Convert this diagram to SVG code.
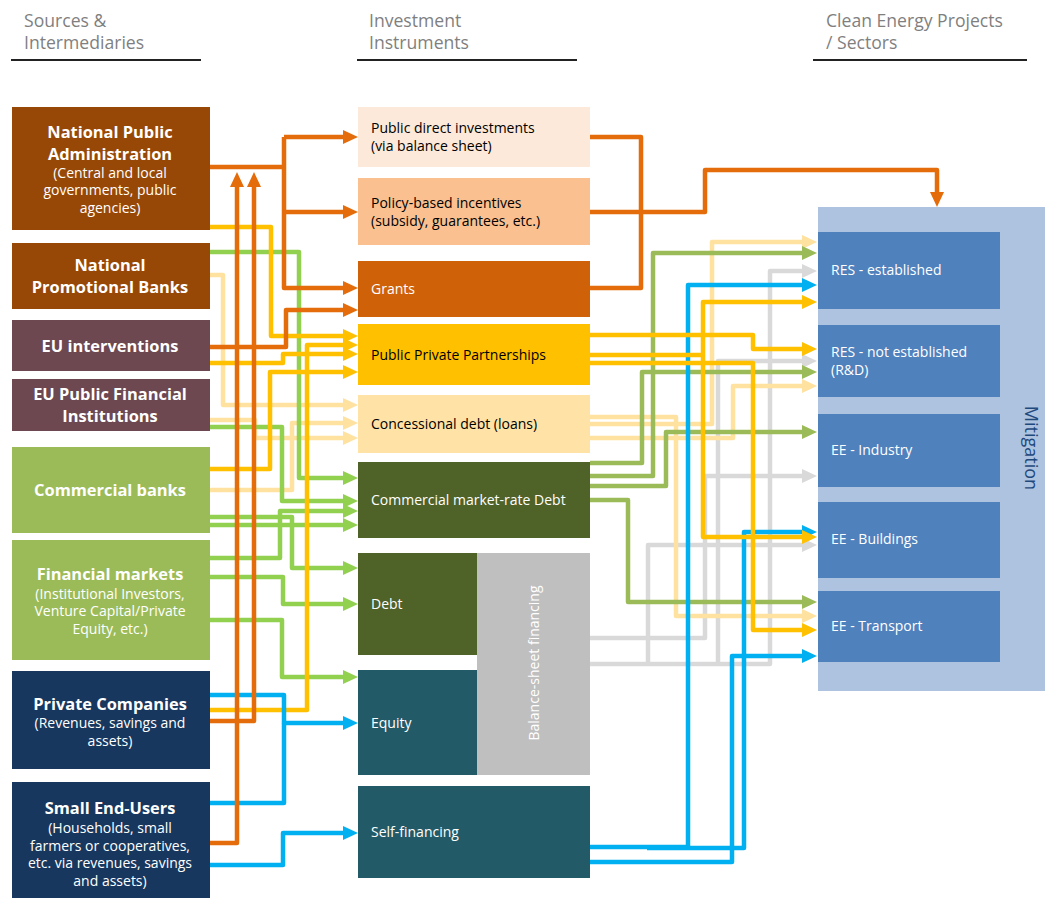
<svg xmlns="http://www.w3.org/2000/svg" width="1045" height="899" viewBox="0 0 1045 899">
<defs>
<style>
.hdr{font-family:"Open Sans","Liberation Sans",sans-serif;font-size:17.6px;fill:#7F7F7F}
.t{font-family:"Open Sans","Liberation Sans",sans-serif;fill:#fff;text-anchor:middle}
.tb{font-size:16.4px;font-weight:bold}
.ts{font-size:14px}
.m{font-family:"Open Sans","Liberation Sans",sans-serif;font-size:14px;fill:#000}
.w{fill:#fff}
.c{fill:none;stroke-width:4.5;stroke-linejoin:round}
.or{stroke:#E46C0A}
.ye{stroke:#FFC000}
.ly{stroke:#FFE1A0}
.gr{stroke:#92D050}
.og{stroke:#9BBB59}
.bl{stroke:#00B0F0}
.gy{stroke:#D9D9D9}
.uline{stroke:#222;stroke-width:2}
</style>
<marker id="aO" markerUnits="userSpaceOnUse" markerWidth="16" markerHeight="14" refX="6" refY="7" orient="auto"><path d="M0,0 L15,7 L0,14 z" fill="#E46C0A"/></marker>
<marker id="aY" markerUnits="userSpaceOnUse" markerWidth="16" markerHeight="14" refX="6" refY="7" orient="auto"><path d="M0,0 L15,7 L0,14 z" fill="#FFC000"/></marker>
<marker id="aL" markerUnits="userSpaceOnUse" markerWidth="16" markerHeight="14" refX="6" refY="7" orient="auto"><path d="M0,0 L15,7 L0,14 z" fill="#FFE1A0"/></marker>
<marker id="aG" markerUnits="userSpaceOnUse" markerWidth="16" markerHeight="14" refX="6" refY="7" orient="auto"><path d="M0,0 L15,7 L0,14 z" fill="#92D050"/></marker>
<marker id="aV" markerUnits="userSpaceOnUse" markerWidth="16" markerHeight="14" refX="6" refY="7" orient="auto"><path d="M0,0 L15,7 L0,14 z" fill="#9BBB59"/></marker>
<marker id="aB" markerUnits="userSpaceOnUse" markerWidth="16" markerHeight="14" refX="6" refY="7" orient="auto"><path d="M0,0 L15,7 L0,14 z" fill="#00B0F0"/></marker>
<marker id="aS" markerUnits="userSpaceOnUse" markerWidth="16" markerHeight="14" refX="6" refY="7" orient="auto"><path d="M0,0 L15,7 L0,14 z" fill="#D9D9D9"/></marker>
</defs>
<rect width="1045" height="899" fill="#fff"/>

<g id="headers">
<text class="hdr" x="24" y="27">Sources &amp;</text>
<text class="hdr" x="24" y="49">Intermediaries</text>
<line class="uline" x1="11" y1="60" x2="201" y2="60"/>
<text class="hdr" x="369" y="27">Investment</text>
<text class="hdr" x="369" y="49">Instruments</text>
<line class="uline" x1="357" y1="60" x2="577" y2="60"/>
<text class="hdr" x="826" y="27">Clean Energy Projects</text>
<text class="hdr" x="826" y="49">/ Sectors</text>
<line class="uline" x1="813" y1="60" x2="1027" y2="60"/>
</g>

<g id="mitigation">
<rect x="818" y="207" width="227" height="484" fill="#ADC3DF"/>
<text x="1025" y="448" transform="rotate(90 1025 448)" text-anchor="middle" font-family="'Open Sans','Liberation Sans',sans-serif" font-size="18" fill="#1F497D">Mitigation</text>
</g>

<g id="connectors">
<!-- left side: light yellow -->
<path class="c ly" d="M210,275 H223 V405 H349" marker-end="url(#aL)"/>
<path class="c ly" d="M210,420 H255 V438 H349" marker-end="url(#aL)"/>
<path class="c ly" d="M210,490 H292 V423 H349" marker-end="url(#aL)"/>
<!-- left side: green -->
<path class="c gr" d="M210,252 H299 V478 H349" marker-end="url(#aG)"/>
<path class="c gr" d="M210,427 H282 V501 H349" marker-end="url(#aG)"/>
<path class="c gr" d="M210,517 H292 V568 H349" marker-end="url(#aG)"/>
<path class="c gr" d="M210,525 H349" marker-end="url(#aG)"/>
<path class="c gr" d="M210,558 H280 V511 H349" marker-end="url(#aG)"/>
<path class="c gr" d="M210,577 H283 V604 H349" marker-end="url(#aG)"/>
<path class="c gr" d="M210,620 H282 V677 H349" marker-end="url(#aG)"/>
<!-- left side: yellow -->
<path class="c ye" d="M210,227 H271 V336 H349" marker-end="url(#aY)"/>
<path class="c ye" d="M210,363 H283 V354 H349" marker-end="url(#aY)"/>
<path class="c ye" d="M210,710 H307 V345 H349" marker-end="url(#aY)"/>
<path class="c ye" d="M210,469 H270 V372 H349" marker-end="url(#aY)"/>
<!-- left side: blue -->
<path class="c bl" d="M210,695 H284 V723 H349" marker-end="url(#aB)"/>
<path class="c bl" d="M210,803 H284 V723"/>
<path class="c bl" d="M210,865 H283 V833 H349" marker-end="url(#aB)"/>
<!-- left side: orange -->
<path class="c or" d="M210,167 H284"/>
<path class="c or" d="M284,137 V288 H349" marker-end="url(#aO)"/>
<path class="c or" d="M284,137 H349" marker-end="url(#aO)"/>
<path class="c or" d="M284,212 H349" marker-end="url(#aO)"/>
<path class="c or" d="M210,347 H286 V310 H349" marker-end="url(#aO)"/>
<path class="c or" d="M210,721 H254 V181" marker-end="url(#aO)"/>
<path class="c or" d="M210,843 H237 V181" marker-end="url(#aO)"/>

<!-- right side: orange -->
<path class="c or" d="M590,137 H641 V288 H590"/>
<path class="c or" d="M590,212 H705 V170 H937 V198" marker-end="url(#aO)"/>
<!-- right side: gray -->
<path class="c gy" d="M590,638 H705 V476 H808" marker-end="url(#aS)"/>
<path class="c gy" d="M590,664 H770 V271 H808" marker-end="url(#aS)"/>
<path class="c gy" d="M648,664 V545 H808" marker-end="url(#aS)"/>
<path class="c gy" d="M718,664 V361 H808" marker-end="url(#aS)"/>
<!-- right side: light yellow -->
<path class="c ly" d="M590,417 H676 V616 H808" marker-end="url(#aL)"/>
<path class="c ly" d="M590,424 H712 V242 H808" marker-end="url(#aL)"/>
<path class="c ly" d="M590,438 H733 V386 H808" marker-end="url(#aL)"/>
<!-- right side: olive green -->
<path class="c og" d="M590,463 H642 V372 H808" marker-end="url(#aV)"/>
<path class="c og" d="M590,476 H653 V253 H808" marker-end="url(#aV)"/>
<path class="c og" d="M590,486 H666 V432 H808" marker-end="url(#aV)"/>
<path class="c og" d="M590,500 H628 V602 H808" marker-end="url(#aV)"/>
<!-- right side: blue -->
<path class="c bl" d="M590,847 H688 V285 H808" marker-end="url(#aB)"/>
<path class="c bl" d="M647,848 H744 V532 H808" marker-end="url(#aB)"/>
<path class="c bl" d="M590,862 H732 V656 H808" marker-end="url(#aB)"/>
<!-- right side: yellow -->
<path class="c ye" d="M590,335 H753 V349 H808" marker-end="url(#aY)"/>
<path class="c ye" d="M590,363 H753 V630 H808" marker-end="url(#aY)"/>
<path class="c ye" d="M590,355 H703 V302 H808" marker-end="url(#aY)"/>
<path class="c ye" d="M703,355 V537 H808" marker-end="url(#aY)"/>
</g>

<g id="src-npa">
<rect x="12" y="107" width="198" height="123" fill="#974806"/>
<text class="t tb" x="110" y="138">National Public</text>
<text class="t tb" x="110" y="160">Administration</text>
<text class="t ts" x="110" y="178">(Central and local</text>
<text class="t ts" x="110" y="195">governments, public</text>
<text class="t ts" x="110" y="213">agencies)</text>
</g>
<g id="src-npb">
<rect x="12" y="243" width="198" height="66" fill="#974806"/>
<text class="t tb" x="110" y="271">National</text>
<text class="t tb" x="110" y="293">Promotional Banks</text>
</g>
<g id="src-eui">
<rect x="12" y="320" width="198" height="51" fill="#6D4850"/>
<text class="t tb" x="110" y="352">EU interventions</text>
</g>
<g id="src-eupfi">
<rect x="12" y="379" width="198" height="52" fill="#6D4850"/>
<text class="t tb" x="110" y="400">EU Public Financial</text>
<text class="t tb" x="110" y="422">Institutions</text>
</g>
<g id="src-cb">
<rect x="12" y="447" width="198" height="86" fill="#9BBB59"/>
<text class="t tb" x="110" y="496">Commercial banks</text>
</g>
<g id="src-fm">
<rect x="12" y="540" width="198" height="120" fill="#9BBB59"/>
<text class="t tb" x="110" y="580">Financial markets</text>
<text class="t ts" x="110" y="599">(Institutional Investors,</text>
<text class="t ts" x="110" y="616">Venture Capital/Private</text>
<text class="t ts" x="110" y="634">Equity, etc.)</text>
</g>
<g id="src-pc">
<rect x="12" y="671" width="198" height="98" fill="#17375E"/>
<text class="t tb" x="110" y="710">Private Companies</text>
<text class="t ts" x="110" y="728">(Revenues, savings and</text>
<text class="t ts" x="110" y="746">assets)</text>
</g>
<g id="src-seu">
<rect x="12" y="782" width="198" height="116" fill="#17375E"/>
<text class="t tb" x="110" y="814">Small End-Users</text>
<text class="t ts" x="110" y="833">(Households, small</text>
<text class="t ts" x="110" y="851">farmers or cooperatives,</text>
<text class="t ts" x="110" y="868">etc. via revenues, savings</text>
<text class="t ts" x="110" y="886">and assets)</text>
</g>

<g id="inst-pdi">
<rect x="358" y="107" width="232" height="60" fill="#FDE9D9"/>
<text class="m" x="371" y="133">Public direct investments</text>
<text class="m" x="371" y="151">(via balance sheet)</text>
</g>
<g id="inst-pbi">
<rect x="358" y="178" width="232" height="67" fill="#FAC090"/>
<text class="m" x="371" y="208">Policy-based incentives</text>
<text class="m" x="371" y="226">(subsidy, guarantees, etc.)</text>
</g>
<g id="inst-grants">
<rect x="358" y="261" width="232" height="56" fill="#CF6209"/>
<text class="m w" x="371" y="294">Grants</text>
</g>
<g id="inst-ppp">
<rect x="358" y="324" width="232" height="61" fill="#FFC000"/>
<text class="m" x="371" y="360">Public Private Partnerships</text>
</g>
<g id="inst-cd">
<rect x="358" y="395" width="232" height="58" fill="#FFE2A6"/>
<text class="m" x="371" y="429">Concessional debt (loans)</text>
</g>
<g id="inst-cmd">
<rect x="358" y="462" width="232" height="76" fill="#4F6228"/>
<text class="m w" x="371" y="505">Commercial market-rate Debt</text>
</g>
<g id="inst-debt">
<rect x="358" y="553" width="119" height="102" fill="#4F6228"/>
<text class="m w" x="371" y="609">Debt</text>
</g>
<g id="inst-equity">
<rect x="358" y="670" width="119" height="105" fill="#235A68"/>
<text class="m w" x="371" y="728">Equity</text>
</g>
<g id="inst-bsf">
<rect x="477" y="553" width="113" height="222" fill="#BFBFBF"/>
<text class="t ts" x="539" y="663" transform="rotate(-90 539 663)">Balance-sheet financing</text>
</g>
<g id="inst-self">
<rect x="358" y="786" width="232" height="92" fill="#235A68"/>
<text class="m w" x="371" y="837">Self-financing</text>
</g>

<g id="sec-res-est">
<rect x="818" y="232" width="182" height="77" fill="#4F81BD"/>
<text class="m w" x="831" y="275">RES - established</text>
</g>
<g id="sec-res-not">
<rect x="818" y="325" width="182" height="72" fill="#4F81BD"/>
<text class="m w" x="831" y="357">RES - not established</text>
<text class="m w" x="831" y="375">(R&amp;D)</text>
</g>
<g id="sec-ee-ind">
<rect x="818" y="414" width="182" height="73" fill="#4F81BD"/>
<text class="m w" x="831" y="455">EE - Industry</text>
</g>
<g id="sec-ee-bld">
<rect x="818" y="502" width="182" height="76" fill="#4F81BD"/>
<text class="m w" x="831" y="544">EE - Buildings</text>
</g>
<g id="sec-ee-tr">
<rect x="818" y="591" width="182" height="71" fill="#4F81BD"/>
<text class="m w" x="831" y="631">EE - Transport</text>
</g>
</svg>
